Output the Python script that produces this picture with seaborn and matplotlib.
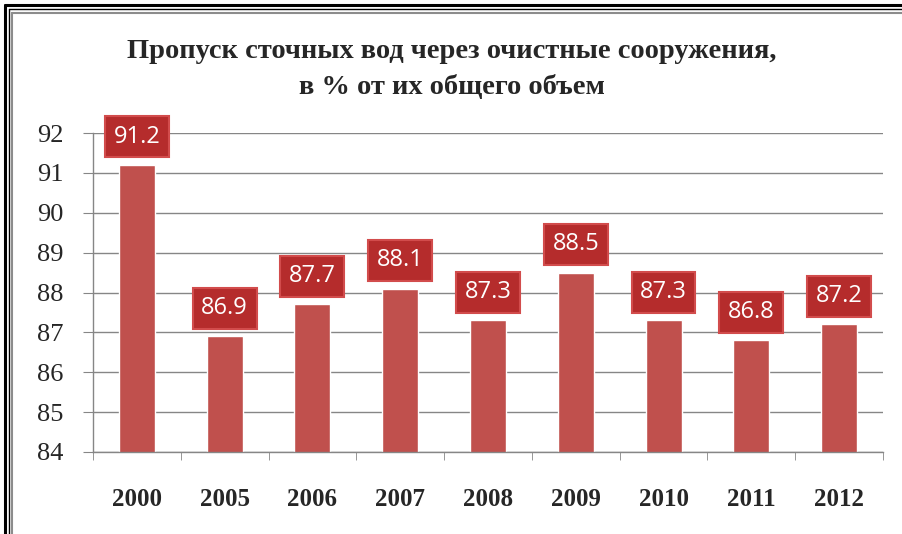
import matplotlib
matplotlib.use("Agg")
import matplotlib.pyplot as plt
import seaborn as sns
import pandas as pd
from matplotlib.lines import Line2D
from matplotlib.ticker import MultipleLocator

sns.set_style("white")
plt.rcParams['font.family'] = ['Liberation Serif', 'DejaVu Serif']

# данные
years = ["2000", "2005", "2006", "2007", "2008", "2009", "2010", "2011", "2012"]
values = [91.2, 86.9, 87.7, 88.1, 87.3, 88.5, 87.3, 86.8, 87.2]
df = pd.DataFrame({"year": years, "value": values})

W, H = 903, 534
fig = plt.figure(figsize=(W / 100, H / 100), dpi=100)
ax = fig.add_axes([93 / W, 1 - 452 / H, (883 - 93) / W, (452 - 133) / H])

sns.barplot(data=df, x="year", y="value", color="#C0504D", width=0.41,
            saturation=1, ax=ax, zorder=2)
ax.set_ylim(84, 92)
ax.yaxis.set_major_locator(MultipleLocator(1))
ax.set_xlim(-0.5, len(years) - 0.5)
ax.set_xlabel("")
ax.set_ylabel("")

# сетка
ax.yaxis.grid(True, color="#868686", linewidth=1)
ax.set_axisbelow(True)
for s in ["top", "right"]:
    ax.spines[s].set_visible(False)
for s in ["left", "bottom"]:
    ax.spines[s].set_color("#868686")
    ax.spines[s].set_linewidth(1)

ax.tick_params(axis="y", left=True, length=7, color="#868686", labelsize=19, pad=14)
ax.set_xticks(range(len(years)))
ax.set_xticks([i - 0.5 for i in range(len(years) + 1)], minor=True)
ax.tick_params(axis="x", which="major", length=0, pad=26, labelsize=18)
ax.tick_params(axis="x", which="minor", bottom=True, length=6, color="#868686")
for lbl in ax.get_xticklabels():
    lbl.set_fontweight("bold")

# подписи значений
for i, v in enumerate(values):
    ax.text(i, v + 0.71, f"{v}", ha="center", va="center", color="white",
            fontsize=17, family=["Open Sans", "DejaVu Sans"], zorder=5, clip_on=False,
            bbox=dict(boxstyle="square,pad=0.36", facecolor="#B52C2C",
                      edgecolor="#D24C4C", linewidth=1.5))

fig.text(0.5, 1 - 52 / H, "Пропуск сточных вод через очистные сооружения,",
         ha="center", va="center", fontsize=20.5, fontweight="bold")
fig.text(0.5, 1 - 87 / H, "в % от их общего объем",
         ha="center", va="center", fontsize=20.5, fontweight="bold")

# рамка
def px_line(x0, y0, x1, y1, color, lw):
    fig.add_artist(Line2D([x0 / W, x1 / W], [1 - y0 / H, 1 - y1 / H],
                          color=color, linewidth=lw, transform=fig.transFigure))

px_line(5, 5, W, 5, "black", 2.2)
px_line(5, 5, 5, H, "black", 2.2)
px_line(9, 9, W, 9, "black", 1)
px_line(9, 9, 9, H, "black", 1)
px_line(12.5, 12.5, W, 12.5, "#8C8C8C", 1.5)
px_line(12.5, 12.5, 12.5, H, "#8C8C8C", 1.5)

fig.savefig("out.png", dpi=100)
